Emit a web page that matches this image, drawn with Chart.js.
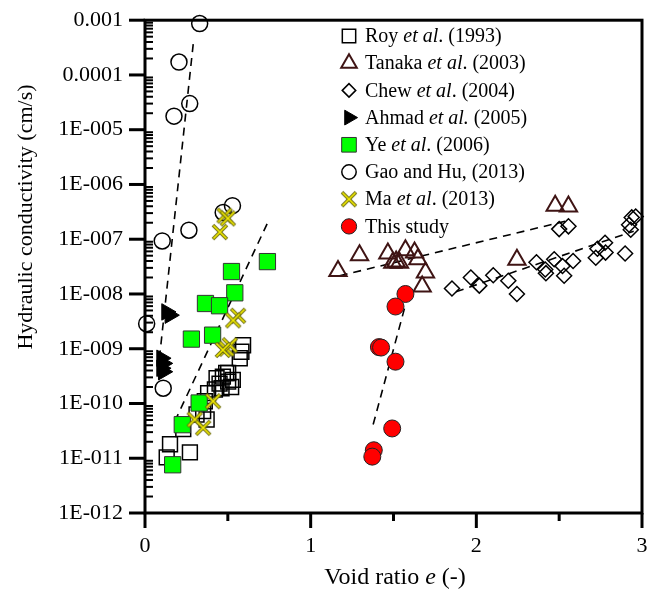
<!DOCTYPE html>
<html><head><meta charset="utf-8">
<script src="https://cdn.jsdelivr.net/npm/chart.js@4/dist/chart.umd.min.js"></script>
<style>html,body{margin:0;padding:0;background:#fff;}#wrap{width:661px;height:594px;}</style>
</head><body><div id="wrap"><canvas id="c" width="661" height="594"></canvas></div>
<script>
// ---------- data ----------
const xTickValues = [0, 1, 2, 3];
const xTickLabels = ['0', '1', '2', '3'];
const xMinorTicks = [0.5, 1.5, 2.5];
const yTickValues = [1e-12, 1e-11, 1e-10, 1e-9, 1e-8, 1e-7, 1e-6, 1e-5, 1e-4, 1e-3];
const yTickLabels = ['1E-012', '1E-011', '1E-010', '1E-009', '1E-008', '1E-007', '1E-006', '1E-005', '0.0001', '0.001'];

const royE = [0.592, 0.572, 0.582, 0.432, 0.470, 0.502, 0.462, 0.422, 0.381, 0.361, 0.351, 0.311, 0.231, 0.151, 0.131, 0.271, 0.502, 0.520, 0.490, 0.372, 0.450, 0.530];
const royK = [1.16e-9, 6.7e-10, 8.8e-10, 2.9e-10, 3.1e-10, 2.5e-10, 1.9e-10, 1.8e-10, 1.55e-10, 1.1e-10, 7.3e-11, 6.3e-11, 3.4e-11, 1.8e-11, 1.04e-11, 1.28e-11, 3.6e-10, 2.0e-10, 3.6e-10, 5.1e-11, 2.3e-10, 2.7e-10];

const tanE = [1.165, 1.295, 1.466, 1.496, 1.516, 1.536, 1.572, 1.627, 1.647, 1.693, 1.673, 2.245, 2.476, 2.556];
const tanK = [2.64e-8, 5.1e-8, 5.5e-8, 3.7e-8, 3.9e-8, 3.7e-8, 6.3e-8, 5.7e-8, 4.3e-8, 2.46e-8, 1.37e-8, 4.2e-8, 4.1e-7, 3.95e-7];

const chewE = [1.853, 1.967, 2.018, 2.102, 2.193, 2.245, 2.363, 2.416, 2.420, 2.470, 2.520, 2.530, 2.584, 2.500, 2.556, 2.721, 2.731, 2.777, 2.780, 2.898, 2.922, 2.938, 2.962, 2.932];
const chewK = [1.26e-8, 2.0e-8, 1.42e-8, 2.2e-8, 1.74e-8, 1.0e-8, 3.8e-8, 2.8e-8, 2.4e-8, 4.3e-8, 3.25e-8, 2.15e-8, 4.0e-8, 1.53e-7, 1.72e-7, 4.6e-8, 6.7e-8, 8.6e-8, 5.7e-8, 5.5e-8, 1.84e-7, 2.5e-7, 2.6e-7, 1.49e-7];

const ahmE = [0.13, 0.15, 0.10, 0.11, 0.10, 0.11];
const ahmK = [4.7e-9, 4.1e-9, 6.7e-10, 5.4e-10, 4.4e-10, 3.8e-10];

const yeE = [0.739, 0.522, 0.542, 0.365, 0.450, 0.408, 0.280, 0.327, 0.225, 0.167];
const yeK = [3.9e-8, 2.57e-8, 1.05e-8, 6.7e-9, 6.1e-9, 1.77e-9, 1.5e-9, 1.02e-10, 4.1e-11, 7.6e-12];

const gaoE = [0.330, 0.205, 0.270, 0.175, 0.528, 0.472, 0.265, 0.104, 0.010, 0.110];
const gaoK = [8.7e-4, 1.72e-4, 3.0e-5, 1.77e-5, 4.1e-7, 3.08e-7, 1.46e-7, 9.3e-8, 2.86e-9, 1.9e-10];

const maE = [0.480, 0.500, 0.452, 0.562, 0.532, 0.492, 0.512, 0.470, 0.411, 0.300, 0.351];
const maK = [2.7e-7, 2.4e-7, 1.35e-7, 4.0e-9, 3.3e-9, 1.0e-9, 1.16e-9, 9.5e-10, 1.1e-10, 5.1e-11, 3.6e-11];

const thisE = [1.572, 1.512, 1.412, 1.425, 1.512, 1.492, 1.381, 1.372];
const thisK = [1.0e-8, 5.9e-9, 1.07e-9, 1.05e-9, 5.8e-10, 3.5e-11, 1.4e-11, 1.07e-11];

const trendGaoE = [0.291, 0.090];   const trendGaoK = [3.66e-4, 8.1e-10];
const trendYeE = [0.737, 0.181];    const trendYeK = [1.91e-7, 4.8e-11];
const trendTanE = [1.175, 2.556];   const trendTanK = [2.15e-8, 2.2e-7];
const trendChewE = [1.877, 2.950];  const trendChewK = [1.1e-8, 1.4e-7];
const trendThisE = [1.566, 1.375];  const trendThisK = [5.4e-9, 3.9e-11];

const legendLabels = [
  [['Roy ', 0], ['et al', 1], ['. (1993)', 0]],
  [['Tanaka ', 0], ['et al', 1], ['. (2003)', 0]],
  [['Chew ', 0], ['et al', 1], ['. (2004)', 0]],
  [['Ahmad ', 0], ['et al.', 1], [' (2005)', 0]],
  [['Ye ', 0], ['et al', 1], ['. (2006)', 0]],
  [['Gao and Hu, (2013)', 0]],
  [['Ma ', 0], ['et al', 1], ['. (2013)', 0]],
  [['This study', 0]]
];
const xTitleParts = [['Void ratio ', 0], ['e', 1], [' (-)', 0]];
const yTitle = 'Hydraulic conductivity (cm/s)';

// ---------- helpers ----------
const FONT = '"Liberation Serif", "Times New Roman", serif';
const pts = (xs, ys) => xs.map((v, i) => ({x: v, y: ys[i]}));

// X marker image for Ma et al.
function makeX() {
  const c = document.createElement('canvas');
  c.width = 18; c.height = 18;
  const g = c.getContext('2d');
  g.lineCap = 'butt';
  g.strokeStyle = '#6b6b10'; g.lineWidth = 3.6;
  g.beginPath(); g.moveTo(2, 2); g.lineTo(16, 16); g.moveTo(16, 2); g.lineTo(2, 16); g.stroke();
  g.strokeStyle = '#f2ea00'; g.lineWidth = 1.6;
  g.beginPath(); g.moveTo(2.5, 2.5); g.lineTo(15.5, 15.5); g.moveTo(15.5, 2.5); g.lineTo(2.5, 15.5); g.stroke();
  return c;
}
const xImg = makeX();

const markerDefs = [
  {label: 'Roy', e: royE, k: royK, style: 'rect', r: 10.5, fill: 'rgba(0,0,0,0)', stroke: '#000', bw: 1.5, rot: 0},
  {label: 'Tanaka', e: tanE, k: tanK, style: 'triangle', r: 10, fill: 'rgba(0,0,0,0)', stroke: '#3f1414', bw: 2, rot: 0},
  {label: 'Chew', e: chewE, k: chewK, style: 'rectRot', r: 7.5, fill: 'rgba(0,0,0,0)', stroke: '#000', bw: 1.5, rot: 0},
  {label: 'Ahmad', e: ahmE, k: ahmK, style: 'triangle', r: 9.5, fill: '#000', stroke: '#000', bw: 1, rot: 90},
  {label: 'Ye', e: yeE, k: yeK, style: 'rect', r: 11.5, fill: '#00ff00', stroke: '#333', bw: 1, rot: 0},
  {label: 'Gao', e: gaoE, k: gaoK, style: 'circle', r: 8, fill: 'rgba(0,0,0,0)', stroke: '#000', bw: 1.5, rot: 0},
  {label: 'Ma', e: maE, k: maK, style: xImg, r: 9, fill: 'rgba(0,0,0,0)', stroke: '#6b6b10', bw: 0, rot: 0},
  {label: 'This study', e: thisE, k: thisK, style: 'circle', r: 8.5, fill: '#ff0000', stroke: '#222', bw: 1, rot: 0}
];
const drawOrder = [5, 4, 6, 3, 2, 7, 1, 0]; // lower = on top

const datasets = [];
[[trendGaoE, trendGaoK], [trendYeE, trendYeK], [trendTanE, trendTanK], [trendChewE, trendChewK], [trendThisE, trendThisK]]
  .forEach(([e, k]) => datasets.push({
    type: 'line', data: pts(e, k), showLine: true, borderColor: '#000', borderWidth: 1.6,
    borderDash: [8, 6], pointRadius: 0, fill: false, order: 20, clip: false
  }));
markerDefs.forEach((m, i) => datasets.push({
  label: m.label, data: pts(m.e, m.k), showLine: false,
  pointStyle: m.style, pointRadius: m.r, pointRotation: m.rot,
  backgroundColor: m.fill, borderColor: m.stroke, borderWidth: m.bw,
  pointBackgroundColor: m.fill, pointBorderColor: m.stroke, pointBorderWidth: m.bw,
  order: drawOrder[i], clip: false
}));

// ---------- plugins ----------
const framePlugin = {
  id: 'frame',
  beforeDatasetsDraw(chart) {
    const {ctx, chartArea: a, scales: {x, y}} = chart;
    const ln = (x1, y1, x2, y2) => { ctx.beginPath(); ctx.moveTo(x1, y1); ctx.lineTo(x2, y2); ctx.stroke(); };
    ctx.save();
    ctx.strokeStyle = '#000';
    ctx.lineWidth = 2;
    for (let d = -12; d < -3; d++) for (let m = 2; m <= 9; m++) {
      const py = y.getPixelForValue(m * Math.pow(10, d));
      ln(a.left, py, a.left + 8, py);
    }
    ctx.lineWidth = 3;
    yTickValues.forEach(v => { const py = y.getPixelForValue(v); ln(a.left - 16, py, a.left, py); });
    xTickValues.forEach(v => { const px = x.getPixelForValue(v); ln(px, a.bottom, px, a.bottom + 15); });
    xMinorTicks.forEach(v => { const px = x.getPixelForValue(v); ln(px, a.bottom, px, a.bottom + 8); });
    ctx.strokeRect(a.left, a.top, a.right - a.left, a.bottom - a.top);
    ctx.restore();
  }
};

function drawParts(ctx, parts, x, y, size, align) {
  const fontOf = it => (it ? 'italic ' : '') + size + 'px ' + FONT;
  let total = 0;
  parts.forEach(([t, it]) => { ctx.font = fontOf(it); total += ctx.measureText(t).width; });
  let cx = align === 'center' ? x - total / 2 : x;
  ctx.textAlign = 'left';
  parts.forEach(([t, it]) => { ctx.font = fontOf(it); ctx.fillText(t, cx, y); cx += ctx.measureText(t).width; });
}

const decorPlugin = {
  id: 'decor',
  afterDraw(chart) {
    const ctx = chart.ctx;
    ctx.save();
    ctx.fillStyle = '#000';
    ctx.textBaseline = 'middle';
    // legend
    legendLabels.forEach((parts, i) => {
      const yy = 36 + i * 27.2;
      const m = markerDefs[i];
      ctx.fillStyle = m.fill; ctx.strokeStyle = m.stroke; ctx.lineWidth = m.bw;
      Chart.helpers.drawPoint(ctx, {pointStyle: m.style, radius: m.r * 0.9, rotation: m.rot, borderWidth: m.bw}, 349, yy);
      ctx.fillStyle = '#000';
      drawParts(ctx, parts, 365, yy + 1, 20, 'left');
    });
    // x title
    drawParts(ctx, xTitleParts, 395, 578, 24, 'center');
    // y title
    ctx.translate(26, 217);
    ctx.rotate(-Math.PI / 2);
    ctx.font = '22px ' + FONT;
    ctx.textAlign = 'center';
    ctx.fillText(yTitle, 0, 0);
    ctx.restore();
  }
};

new Chart(document.getElementById('c'), {
  type: 'scatter',
  data: {datasets},
  options: {
    responsive: false, animation: false, devicePixelRatio: 1, events: [],
    layout: {padding: {left: 0, right: 19, top: 15, bottom: 0}},
    plugins: {legend: {display: false}, tooltip: {enabled: false}, title: {display: false}},
    scales: {
      x: {
        type: 'linear', position: 'bottom', min: 0, max: 3,
        afterBuildTicks: s => { s.ticks = xTickValues.map(v => ({value: v})); },
        afterFit: s => { s.height = 81; },
        ticks: {callback: (v, i) => xTickLabels[i], font: {family: FONT, size: 22}, color: '#000', padding: 5, maxRotation: 0},
        grid: {drawOnChartArea: false, color: 'rgba(0,0,0,0)', tickLength: 15},
        border: {display: false}
      },
      y: {
        type: 'logarithmic', position: 'left', min: 1e-12, max: 1e-3,
        afterBuildTicks: s => { s.ticks = yTickValues.map(v => ({value: v})); },
        afterFit: s => { s.width = 145; },
        ticks: {callback: (v, i) => yTickLabels[i], font: {family: FONT, size: 22}, color: '#000', padding: 7},
        grid: {drawOnChartArea: false, color: 'rgba(0,0,0,0)', tickLength: 15},
        border: {display: false}
      }
    }
  },
  plugins: [framePlugin, decorPlugin]
});
</script>
</body></html>
